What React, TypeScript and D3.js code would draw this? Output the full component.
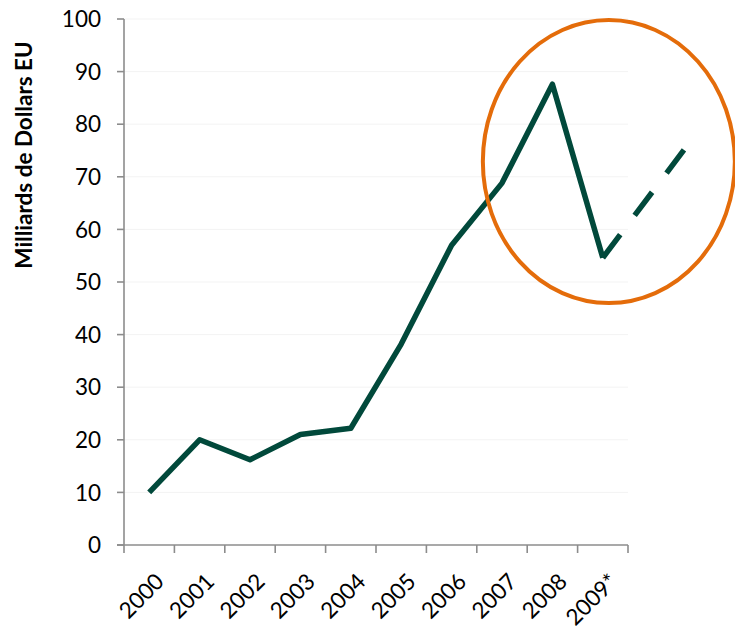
import React from 'react';
import * as d3 from 'd3';

const years = ['2000', '2001', '2002', '2003', '2004', '2005', '2006', '2007', '2008', '2009*'];
const values = [10, 20, 16.2, 21, 22.2, 38.2, 57, 68.8, 87.6, 54.6];
// projected rebound after 2009* : offset in category steps, value
const projection = [
    { step: 0, value: 54.6 },
    { step: 1.68, value: 76 },
];
const yTicks = [0, 10, 20, 30, 40, 50, 60, 70, 80, 90, 100];

const W = 735;
const H = 634;
const margin = { top: 19, right: 107, bottom: 89, left: 124 };

const App: React.FC = () => {
    const width = W - margin.left - margin.right;
    const height = H - margin.top - margin.bottom;

    const x = d3.scaleBand<string>().domain(years).range([0, width]).padding(0);
    const y = d3.scaleLinear().domain([0, 100]).range([height, 0]);
    const cx = (d: string) => (x(d) || 0) + x.bandwidth() / 2;

    const line = d3.line<number>()
        .x((_, i) => cx(years[i]))
        .y(d => y(d));

    const last = years[years.length - 1];
    const dashLine = d3.line<{ step: number; value: number }>()
        .x(d => cx(last) + d.step * x.bandwidth())
        .y(d => y(d.value));

    // highlight ellipse, in data units
    const ell = {
        cx: cx(last) + 0.12 * x.bandwidth(),
        cy: y(72.9),
        rx: 2.5 * x.bandwidth(),
        ry: y(0) - y(26.9),
    };

    const font = 'Lato, "Open Sans", sans-serif';
    const axisColor = '#8c8c8c';
    const lineColor = '#01493b';

    return (
        <div style={{ position: 'absolute', left: 0, top: 0 }}>
            <svg width={W} height={H} style={{ display: 'block' }}>
                <rect width={W} height={H} fill="#fff" />
                <g transform={`translate(${margin.left},${margin.top})`}>
                    {yTicks.filter(t => t > 0).map(t => (
                        <line key={'g' + t} x1={0} x2={width} y1={y(t)} y2={y(t)} stroke="#f3f3f3" strokeWidth={1} />
                    ))}
                    <line x1={0} x2={0} y1={0} y2={height + 8} stroke={axisColor} strokeWidth={1.6} />
                    <line x1={-7} x2={width} y1={height} y2={height} stroke={axisColor} strokeWidth={1.6} />
                    {yTicks.map(t => (
                        <g key={'y' + t} transform={`translate(0,${y(t)})`}>
                            <line x1={-7} x2={0} stroke={axisColor} strokeWidth={1.6} />
                            <text x={-23} dy="0.36em" textAnchor="end" fontFamily={font} fontSize={22.5} fill="#000">{t}</text>
                        </g>
                    ))}
                    {years.map(yr => (
                        <line key={'xt' + yr} x1={(x(yr) || 0) + x.bandwidth()} x2={(x(yr) || 0) + x.bandwidth()}
                            y1={height} y2={height + 8} stroke={axisColor} strokeWidth={1.6} />
                    ))}
                    {years.map(yr => (
                        <text key={'xl' + yr} transform={`translate(${cx(yr) + 5},${height + 27}) rotate(-45)`}
                            textAnchor="end" dy="0.7em" fontFamily={font} fontSize={22.5} fill="#000">{yr}</text>
                    ))}
                    <path d={line(values) || ''} fill="none" stroke={lineColor} strokeWidth={5.5} strokeLinejoin="round" />
                    <path d={dashLine(projection) || ''} fill="none" stroke={lineColor} strokeWidth={5.5} strokeDasharray="29,24" />
                    <ellipse cx={ell.cx} cy={ell.cy} rx={ell.rx} ry={ell.ry} fill="none" stroke="#e46c0a" strokeWidth={4} />
                </g>
                <text transform={`translate(32,155) rotate(-90)`} textAnchor="middle" fontFamily={font}
                    fontWeight="bold" fontSize={22.5} fill="#000">Milliards de Dollars EU</text>
            </svg>
        </div>
    );
};

export default App;
